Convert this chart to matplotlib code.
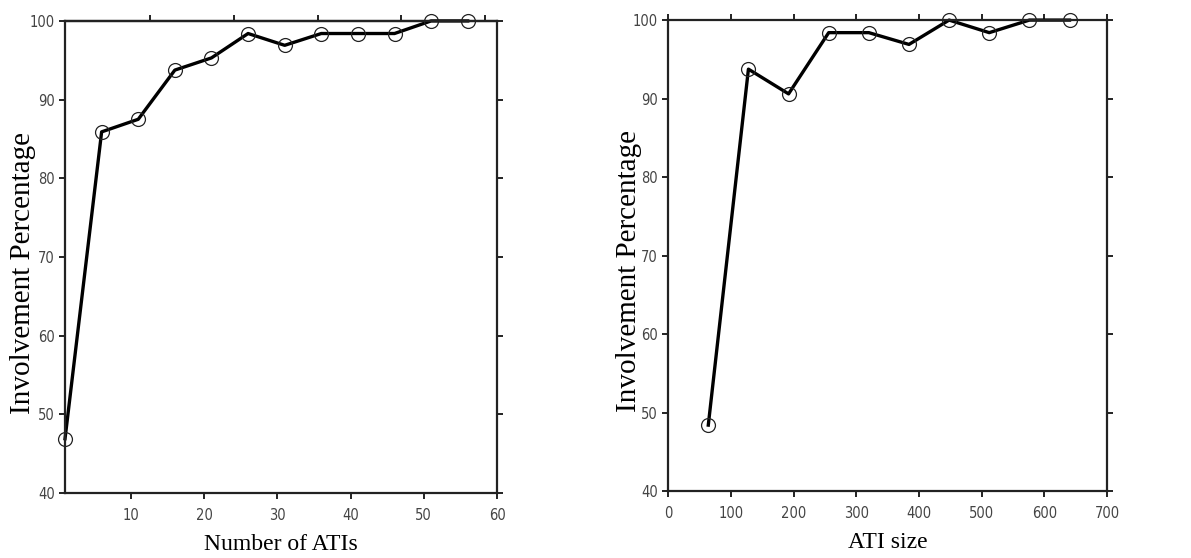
import numpy as np
import matplotlib.pyplot as plt

# left panel: number of ATIs
n_atis = [1, 6, 11, 16, 21, 26, 31, 36, 41, 46, 51, 56]
inv_n = [46.9, 85.9, 87.5, 93.75, 95.3, 98.4, 96.9, 98.4, 98.4, 98.4, 100, 100]

# right panel: ATI size
ati_size = [64, 128, 192, 256, 320, 384, 448, 512, 576, 640]
inv_s = [48.4, 93.75, 90.6, 98.4, 98.4, 96.9, 100, 98.4, 100, 100]

left_top_ticks = [12.6, 24.1, 35.5, 46.9, 58.3]

plt.rcParams['font.family'] = 'DejaVu Sans'

fig = plt.figure(figsize=(11.91, 5.58), dpi=100)
ax1 = fig.add_axes([0.0546, 0.1165, 0.3627, 0.846])
ax2 = fig.add_axes([0.561, 0.120, 0.3686, 0.844])

def style(ax, xlabel, ylab_x):
    for s in ax.spines.values():
        s.set_linewidth(1.6)
        s.set_color('#222222')
    ax.tick_params(direction='out', length=4, width=1.4, colors='#222222',
                   labelcolor='#444444', labelsize=10.5,
                   top=True, right=True, labeltop=False, labelright=False)
    ax.tick_params(axis='x', pad=7)
    for lab in ax.get_xticklabels() + ax.get_yticklabels():
        lab.set_fontstretch('condensed')
    ax.set_xlabel(xlabel, family='Liberation Serif', fontsize=17, labelpad=8)
    ax.set_ylabel('Involvement Percentage', family='Liberation Serif', fontsize=21)
    ax.yaxis.set_label_coords(ylab_x, 0.467)
    ax.set_ylim(40, 100)
    ax.set_yticks(np.arange(40, 101, 10))

ax1.plot(n_atis, inv_n, color='black', lw=2.4, marker='o', ms=10,
         mfc='none', mec='#222222', mew=0.9, clip_on=False)
ax1.set_xlim(1, 60)
ax1.set_xticks([10, 20, 30, 40, 50, 60])
style(ax1, 'Number of ATIs', -0.067)
ax1.tick_params(top=False)
top = ax1.secondary_xaxis('top')
top.set_xticks(left_top_ticks)
top.tick_params(direction='out', length=4, width=1.4, colors='#222222', labeltop=False)
top.spines['top'].set_linewidth(1.6)

ax2.plot(ati_size, inv_s, color='black', lw=2.4, marker='o', ms=10,
         mfc='none', mec='#222222', mew=0.9, clip_on=False)
ax2.set_xlim(0, 700)
ax2.set_xticks(np.arange(0, 701, 100))
style(ax2, 'ATI size', -0.059)

fig.savefig('out.png', dpi=100)
